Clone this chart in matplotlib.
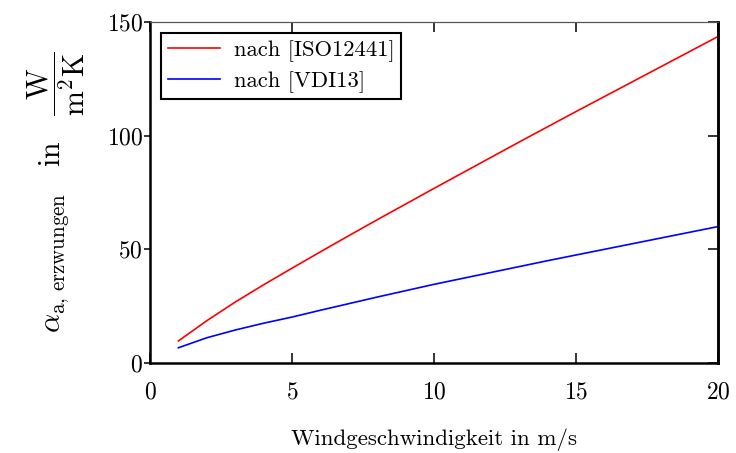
"""Heat transfer coefficient vs wind speed, two correlations."""
import matplotlib
matplotlib.use("Agg")
import matplotlib.pyplot as plt

# wind speed in m/s
wind = [1, 2, 3, 4, 5, 6, 7, 8, 9, 10, 11, 12, 13, 14, 15, 16, 17, 18, 19, 20]
# alpha after ISO 12441
alpha_iso = [9.7, 18.6, 26.8, 34.4, 41.7, 48.9, 56.0, 63.0, 69.9, 76.8,
             83.6, 90.4, 97.2, 103.9, 110.6, 117.2, 123.8, 130.4, 137.0, 143.6]
# alpha after VDI
alpha_vdi = [6.7, 11.1, 14.5, 17.5, 20.2, 23.2, 26.1, 29.0, 31.8, 34.6,
             37.2, 39.8, 42.4, 45.0, 47.5, 50.0, 52.5, 55.0, 57.5, 60.0]

x_ticks = [0, 5, 10, 15, 20]
y_ticks = [0, 50, 100, 150]

plt.rcParams["font.family"] = "cmr10"
plt.rcParams["mathtext.fontset"] = "cm"
plt.rcParams["axes.formatter.use_mathtext"] = True

fig = plt.figure(figsize=(7.36, 4.53), dpi=100)
ax = fig.add_axes([0.2038, 0.1987, 0.7717, 0.7527])

ax.plot(wind, alpha_iso, color="#FF0000", lw=1.2, label="nach [ISO12441]")
ax.plot(wind, alpha_vdi, color="#0000FF", lw=1.2, label="nach [VDI13]")

ax.set_xlim(0, 20)
ax.set_ylim(0, 150)
ax.set_xticks(x_ticks)
ax.set_yticks(y_ticks)

for side in ["left", "bottom", "right"]:
    ax.spines[side].set_linewidth(1.8)
    ax.spines[side].set_color("black")
ax.spines["top"].set_linewidth(0.8)
ax.spines["top"].set_color("#555555")

ax.tick_params(axis="x", direction="in", length=7, width=1.1, pad=13,
               top=False, labelsize=17)
ax.tick_params(axis="y", direction="out", length=4, width=1.1, pad=1,
               right=False, labelsize=17)

# inward ticks on top and right sides
top = ax.secondary_xaxis("top")
top.set_xticks(x_ticks)
top.tick_params(direction="in", length=7, width=1.1, labeltop=False)
top.spines["top"].set_linewidth(0.8)
top.spines["top"].set_color("#555555")

right = ax.secondary_yaxis("right")
right.set_yticks(y_ticks)
right.tick_params(direction="in", length=7, width=1.1, labelright=False)
right.spines["right"].set_linewidth(1.8)

ax.set_xlabel("Windgeschwindigkeit in m/s", fontsize=16.5, labelpad=18)
ax.set_ylabel(r"$\alpha_{\mathrm{a,\,erzwungen}}\ \ \ \mathrm{in}\ \ \ "
              r"\dfrac{\mathrm{W}}{\mathrm{m}^{2}\mathrm{K}}$",
              fontsize=21.5, labelpad=14)

leg = ax.legend(loc="upper left", fontsize=16.3, fancybox=False,
                edgecolor="black", framealpha=1, borderaxespad=0.5,
                handlelength=2.3, handletextpad=0.6, borderpad=0.3,
                labelspacing=0.4)
leg.get_frame().set_linewidth(1.5)

fig.savefig("out.png", dpi=100)
plt.close(fig)
